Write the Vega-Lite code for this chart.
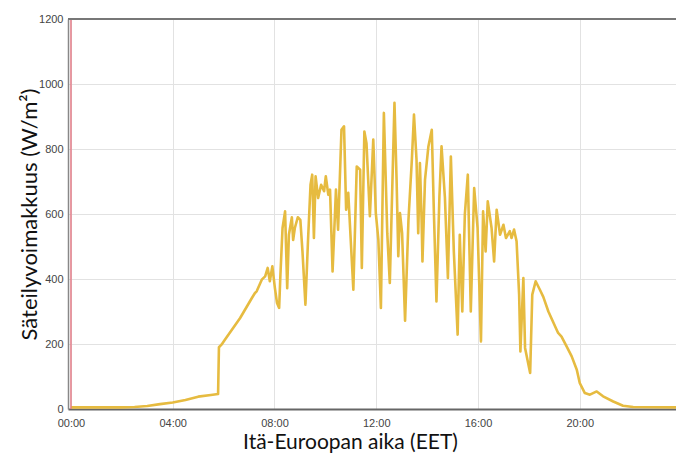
{
  "$schema": "https://vega.github.io/schema/vega-lite/v6.json",
  "width": 608,
  "height": 390,
  "autosize": {"type": "none"},
  "padding": {"left": 68, "top": 19, "right": 0, "bottom": 48},
  "background": "white",
  "config": {
    "view": {"stroke": null},
    "axis": {"labelFont": "Liberation Sans", "labelFontSize": 11, "labelColor": "#444444", "titleFont": "Lato", "titleFontWeight": "normal", "titleColor": "#111111", "gridColor": "#e2e2e2", "ticks": false}
  },
  "datasets": {
    "irr": [
      {"minute": 0, "value": 5}, {"minute": 60, "value": 5}, {"minute": 120, "value": 5}, {"minute": 150, "value": 6},
      {"minute": 180, "value": 9}, {"minute": 210, "value": 15}, {"minute": 240, "value": 20}, {"minute": 270, "value": 28},
      {"minute": 300, "value": 38}, {"minute": 330, "value": 43}, {"minute": 347, "value": 46}, {"minute": 349, "value": 190},
      {"minute": 355, "value": 198}, {"minute": 363, "value": 213}, {"minute": 399, "value": 280}, {"minute": 426, "value": 340},
      {"minute": 434, "value": 357}, {"minute": 438, "value": 362}, {"minute": 450, "value": 398}, {"minute": 458, "value": 408},
      {"minute": 464, "value": 434}, {"minute": 469, "value": 393}, {"minute": 475, "value": 439}, {"minute": 481, "value": 372},
      {"minute": 486, "value": 326}, {"minute": 491, "value": 311}, {"minute": 494, "value": 413}, {"minute": 499, "value": 557},
      {"minute": 505, "value": 608}, {"minute": 510, "value": 372}, {"minute": 514, "value": 536}, {"minute": 521, "value": 590},
      {"minute": 524, "value": 520}, {"minute": 528, "value": 557}, {"minute": 535, "value": 590}, {"minute": 541, "value": 582},
      {"minute": 546, "value": 485}, {"minute": 553, "value": 321}, {"minute": 559, "value": 516}, {"minute": 565, "value": 690},
      {"minute": 569, "value": 721}, {"minute": 573, "value": 526}, {"minute": 577, "value": 716}, {"minute": 583, "value": 649},
      {"minute": 590, "value": 690}, {"minute": 597, "value": 670}, {"minute": 601, "value": 716}, {"minute": 607, "value": 659},
      {"minute": 611, "value": 675}, {"minute": 617, "value": 423}, {"minute": 625, "value": 675}, {"minute": 630, "value": 552},
      {"minute": 638, "value": 859}, {"minute": 644, "value": 870}, {"minute": 649, "value": 613}, {"minute": 654, "value": 665},
      {"minute": 666, "value": 367}, {"minute": 674, "value": 746}, {"minute": 682, "value": 736}, {"minute": 686, "value": 434},
      {"minute": 692, "value": 854}, {"minute": 697, "value": 818}, {"minute": 705, "value": 593}, {"minute": 713, "value": 829},
      {"minute": 719, "value": 603}, {"minute": 725, "value": 521}, {"minute": 731, "value": 311}, {"minute": 738, "value": 911},
      {"minute": 746, "value": 541}, {"minute": 752, "value": 388}, {"minute": 763, "value": 942}, {"minute": 768, "value": 705},
      {"minute": 772, "value": 470}, {"minute": 776, "value": 603}, {"minute": 781, "value": 541}, {"minute": 788, "value": 272},
      {"minute": 796, "value": 582}, {"minute": 804, "value": 767}, {"minute": 809, "value": 906}, {"minute": 815, "value": 767},
      {"minute": 819, "value": 541}, {"minute": 823, "value": 757}, {"minute": 827, "value": 582}, {"minute": 829, "value": 454},
      {"minute": 835, "value": 705}, {"minute": 843, "value": 808}, {"minute": 851, "value": 859}, {"minute": 856, "value": 603},
      {"minute": 862, "value": 331}, {"minute": 869, "value": 654}, {"minute": 874, "value": 808}, {"minute": 882, "value": 650},
      {"minute": 889, "value": 403}, {"minute": 896, "value": 777}, {"minute": 903, "value": 485}, {"minute": 912, "value": 229},
      {"minute": 917, "value": 536}, {"minute": 923, "value": 300}, {"minute": 929, "value": 600}, {"minute": 936, "value": 721},
      {"minute": 943, "value": 300}, {"minute": 951, "value": 680}, {"minute": 959, "value": 557}, {"minute": 967, "value": 208},
      {"minute": 972, "value": 608}, {"minute": 978, "value": 485}, {"minute": 983, "value": 639}, {"minute": 992, "value": 557},
      {"minute": 998, "value": 454}, {"minute": 1004, "value": 613}, {"minute": 1012, "value": 536}, {"minute": 1020, "value": 567},
      {"minute": 1026, "value": 526}, {"minute": 1035, "value": 547}, {"minute": 1039, "value": 526}, {"minute": 1045, "value": 552},
      {"minute": 1051, "value": 516}, {"minute": 1057, "value": 352}, {"minute": 1060, "value": 177}, {"minute": 1067, "value": 403},
      {"minute": 1071, "value": 188}, {"minute": 1083, "value": 111}, {"minute": 1088, "value": 352}, {"minute": 1096, "value": 393},
      {"minute": 1106, "value": 367}, {"minute": 1114, "value": 345}, {"minute": 1126, "value": 300}, {"minute": 1142, "value": 254},
      {"minute": 1149, "value": 234}, {"minute": 1157, "value": 223}, {"minute": 1169, "value": 193}, {"minute": 1181, "value": 162},
      {"minute": 1193, "value": 121}, {"minute": 1200, "value": 80}, {"minute": 1212, "value": 49}, {"minute": 1224, "value": 44},
      {"minute": 1240, "value": 54}, {"minute": 1255, "value": 39}, {"minute": 1279, "value": 23}, {"minute": 1302, "value": 10},
      {"minute": 1326, "value": 6}, {"minute": 1427, "value": 5}
    ],
    "marker": [{"minute": 0}]
  },
  "layer": [
    {
      "data": {"name": "irr"},
      "mark": {"type": "line", "color": "#e6bb40", "strokeWidth": 2.6, "strokeJoin": "round", "clip": true},
      "encoding": {
        "x": {
          "field": "minute", "type": "quantitative",
          "scale": {"domain": [-7, 1427], "nice": false, "zero": false},
          "axis": {
            "title": "Itä-Euroopan aika (EET)",
            "titleFontSize": 21,
            "titleX": 282,
            "values": [0, 240, 480, 720, 960, 1200],
            "labelExpr": "format(floor(datum.value/60), '02d') + ':00'",
            "domainColor": "#666666", "domainWidth": 2,
            "labelPadding": 8, "titlePadding": 3
          }
        },
        "y": {
          "field": "value", "type": "quantitative",
          "scale": {"domain": [0, 1200], "nice": false},
          "axis": {
            "title": "Säteilyvoimakkuus (W/m²)",
            "titleFontSize": 22,
            "titleX": -27,
            "format": "d",
            "values": [0, 200, 400, 600, 800, 1000, 1200],
            "domainColor": "#888888", "domainWidth": 1.5,
            "labelPadding": 5
          }
        }
      }
    },
    {
      "data": {"name": "marker"},
      "mark": {"type": "rule", "color": "#e47c88", "strokeWidth": 1.5},
      "encoding": {"x": {"field": "minute", "type": "quantitative"}}
    },
    {
      "data": {"values": [{"v": 1200}]},
      "mark": {"type": "rule", "color": "#777777", "strokeWidth": 2},
      "encoding": {"y": {"field": "v", "type": "quantitative"}}
    }
  ]
}
